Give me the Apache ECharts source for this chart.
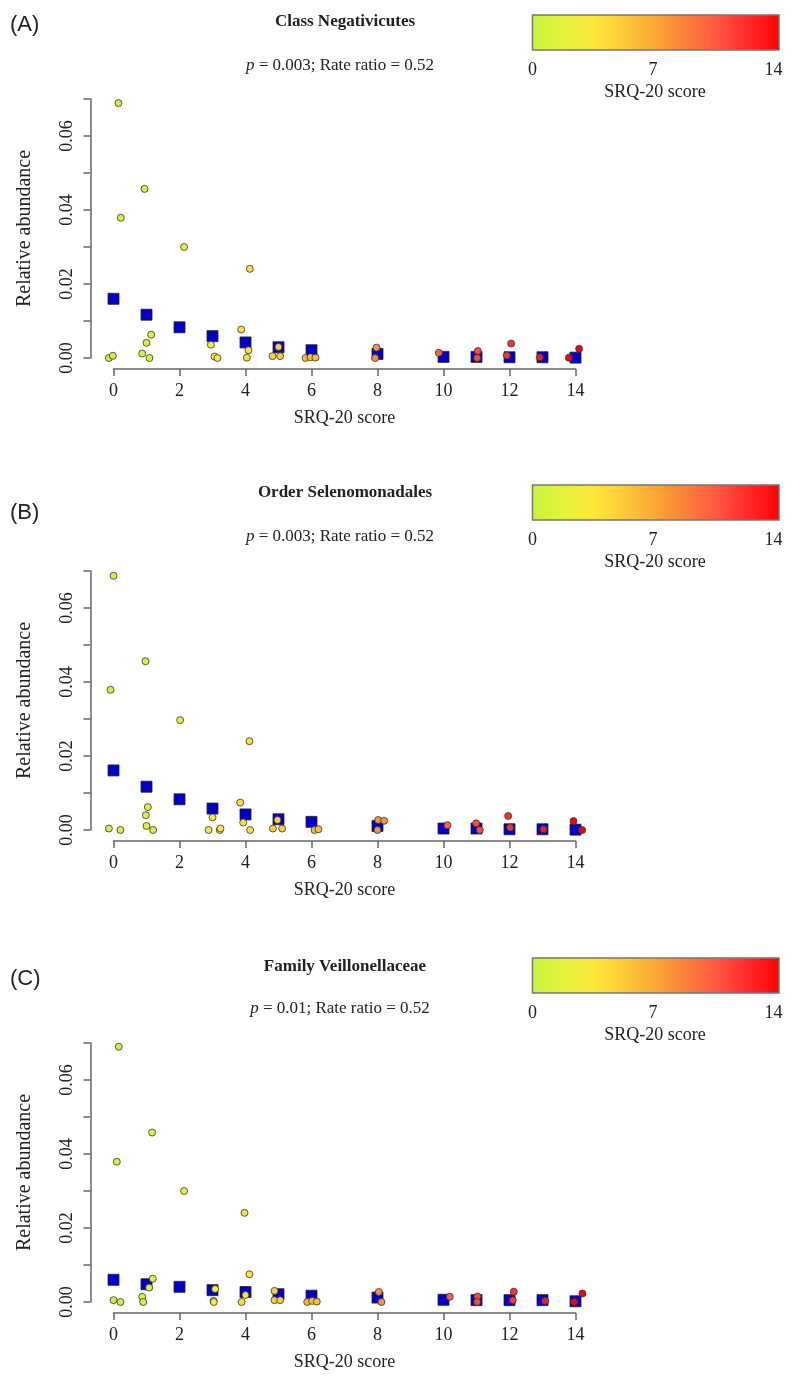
<!DOCTYPE html>
<html>
<head>
<meta charset="utf-8">
<script src="https://cdn.jsdelivr.net/npm/echarts@6/dist/echarts.min.js"></script>
<style>
  html, body { margin: 0; padding: 0; background: #fff; }
  #chart { width: 800px; height: 1388px; }
</style>
</head>
<body>
<div id="chart"></div>
<script>
// group means (blue squares), one per SRQ-20 score
var meanScores = [0, 1, 2, 3, 4, 5, 6, 8, 10, 11, 12, 13, 14];
var meanA = [0.016, 0.0117, 0.0083, 0.0059, 0.0042, 0.0029, 0.0021, 0.0011, 0.0003, 0.0003, 0.0002, 0.0002, 0.0001];
var meanB = [0.0161, 0.0117, 0.0083, 0.0058, 0.0042, 0.0029, 0.0022, 0.0011, 0.0004, 0.0004, 0.0002, 0.0002, 0.0001];
var meanC = [0.006, 0.0048, 0.0041, 0.0032, 0.0027, 0.0021, 0.0017, 0.0012, 0.0006, 0.0005, 0.0005, 0.0005, 0.0002];

// individual samples (jittered score, relative abundance)
var ptsAx = [0.15, 0.22, -0.14, -0.02, 0.94, 0.87, 1.0, 1.14, 1.09, 2.14, 2.95, 3.06, 3.15, 3.87, 4.13, 4.09, 4.04, 4.82, 5.05, 5.0, 5.82, 5.97, 6.12, 7.97, 7.93, 9.86, 11.04, 11.02, 12.05, 11.92, 12.92, 13.8, 14.11];
var ptsAy = [0.0689, 0.0379, 0.0, 0.0006, 0.0457, 0.0012, 0.0041, 0.0063, 0.0, 0.030, 0.0036, 0.0004, 0.0, 0.0077, 0.0241, 0.0021, 0.0001, 0.0005, 0.0005, 0.003, 0.0, 0.0002, 0.0001, 0.0028, 0.0, 0.0014, 0.0019, 0.0, 0.0039, 0.0007, 0.0002, 0.0001, 0.0025];

var ptsBx = [0.0, -0.09, -0.14, 0.21, 0.97, 1.04, 0.98, 1.0, 1.2, 2.02, 3.0, 2.88, 3.22, 3.24, 3.84, 4.12, 3.93, 4.14, 4.83, 5.11, 4.97, 6.09, 6.21, 8.02, 8.2, 8.0, 10.12, 10.99, 11.1, 11.96, 12.02, 13.03, 13.94, 14.2];
var ptsBy = [0.0687, 0.0379, 0.0004, 0.0, 0.0456, 0.0062, 0.004, 0.0011, 0.0, 0.0297, 0.0034, 0.0, 0.0, 0.0004, 0.0074, 0.024, 0.002, 0.0, 0.0004, 0.0004, 0.0027, 0.0, 0.0002, 0.0027, 0.0025, 0.0, 0.0013, 0.0018, 0.0, 0.0038, 0.0007, 0.0002, 0.0024, 0.0];

var ptsCx = [0.16, 0.1, 0.0, 0.21, 1.17, 0.87, 0.9, 1.19, 1.08, 2.14, 3.08, 3.03, 3.04, 3.97, 4.12, 4.0, 3.88, 4.88, 4.88, 5.05, 5.87, 6.02, 6.16, 8.04, 8.12, 10.19, 11.03, 11.02, 12.13, 12.1, 13.08, 13.96, 14.21];
var ptsCy = [0.069, 0.0379, 0.0005, 0.0, 0.0458, 0.0014, 0.0, 0.0063, 0.0039, 0.030, 0.0035, 0.0003, 0.0, 0.0241, 0.0075, 0.0019, 0.0, 0.003, 0.0005, 0.0005, 0.0, 0.0003, 0.0001, 0.0027, 0.0, 0.0014, 0.0015, 0.0, 0.0028, 0.0005, 0.0003, 0.0, 0.0023];

var panelTags = ['(A)', '(B)', '(C)'];
var panelTitles = ['Class Negativicutes', 'Order Selenomonadales', 'Family Veillonellaceae'];
var pValues = ['0.003', '0.003', '0.01'];
var rateRatios = ['0.52', '0.52', '0.52'];
var yTickLabels = ['0.00', '0.02', '0.04', '0.06'];
var barTicks = [0, 7, 14];

var scoreColors = ['#c8f53c', '#e4f23a', '#fde83a', '#fcca38', '#f9a735', '#fa8038', '#ff5640', '#ff2a2a', '#ff0000'];

var serif = 'Liberation Serif';
var panelStep = 472;
var gridTop = 99, gridH = 259, gridLeft = 113.5, gridW = 462;

var myChart = echarts.init(document.getElementById('chart'));

var grids = [], xAxes = [], yAxes = [], series = [], graphics = [];
var means = [meanA, meanB, meanC];
var ptsX = [ptsAx, ptsBx, ptsCx];
var ptsY = [ptsAy, ptsBy, ptsCy];

for (var p = 0; p < 3; p++) {
  var dy = p * panelStep;
  grids.push({ left: gridLeft, top: gridTop + dy, width: gridW, height: gridH });
  xAxes.push({
    gridIndex: p, type: 'value', min: 0, max: 14, interval: 2,
    offset: 11,
    name: 'SRQ-20 score', nameLocation: 'middle', nameGap: 40,
    nameTextStyle: { fontFamily: serif, fontSize: 18, color: '#222' },
    axisLine: { onZero: false, lineStyle: { color: '#666', width: 1.5 } },
    axisTick: { length: 7, lineStyle: { color: '#666', width: 1.5 } },
    axisLabel: { margin: 13, fontFamily: serif, fontSize: 18, color: '#222' },
    splitLine: { show: false }
  });
  yAxes.push({
    gridIndex: p, type: 'value', min: 0, max: 0.07, interval: 0.01,
    offset: 23,
    name: 'Relative abundance', nameLocation: 'middle', nameGap: 56,
    nameTextStyle: { fontFamily: serif, fontSize: 20, color: '#222' },
    axisLine: { show: true, onZero: false, lineStyle: { color: '#666', width: 1.5 } },
    axisTick: { show: true, length: 7, lineStyle: { color: '#666', width: 1.5 } },
    axisLabel: {
      rotate: 90, margin: 14, fontFamily: serif, fontSize: 18, color: '#222',
      formatter: function (v) {
        var s = v.toFixed(2);
        return yTickLabels.indexOf(s) >= 0 ? s : '';
      }
    },
    splitLine: { show: false }
  });

  series.push({
    type: 'scatter', xAxisIndex: p, yAxisIndex: p, clip: false,
    symbol: 'rect', symbolSize: 11, z: 2,
    itemStyle: { color: '#0000cc', borderColor: '#222', borderWidth: 0.8, opacity: 1 },
    data: meanScores.map(function (s, i) { return [s, means[p][i]]; })
  });
  series.push({
    type: 'scatter', xAxisIndex: p, yAxisIndex: p, clip: false,
    symbol: 'circle', symbolSize: 7, z: 3,
    itemStyle: { borderColor: '#333', borderWidth: 0.8, opacity: 1 },
    data: ptsX[p].map(function (x, i) { return [x, ptsY[p][i], Math.round(x)]; })
  });

  // panel header
  graphics.push({
    type: 'text', left: 10, top: [14, 502, 968][p],
    style: { text: panelTags[p], font: '22px "Liberation Sans"', fill: '#222' }
  });
  graphics.push({
    type: 'text', x: 345, y: [22, 493, 967][p],
    style: { text: panelTitles[p], font: 'bold 17px "' + serif + '"', fill: '#222', align: 'center', verticalAlign: 'middle' }
  });
  graphics.push({
    type: 'text', x: 340, y: [66, 537, 1009][p],
    style: {
      text: '{i|p} = ' + pValues[p] + '; Rate ratio = ' + rateRatios[p],
      font: '17px "' + serif + '"', fill: '#222', align: 'center', verticalAlign: 'middle',
      rich: { i: { fontStyle: 'italic', fontFamily: serif, fontSize: 17, fill: '#222' } }
    }
  });

  // colour key
  var by = [15, 485, 958][p];
  graphics.push({
    type: 'rect', shape: { x: 532.5, y: by, width: 246.5, height: 35 },
    style: {
      fill: new echarts.graphic.LinearGradient(0, 0, 1, 0, scoreColors.map(function (c, i) {
        return { offset: i / (scoreColors.length - 1), color: c };
      })),
      stroke: '#777', lineWidth: 1.5
    }
  });
  barTicks.forEach(function (t) {
    graphics.push({
      type: 'text', x: 532.5 + t / 14 * 241, y: by + 55,
      style: { text: String(t), font: '18px "' + serif + '"', fill: '#222', align: 'center', verticalAlign: 'middle' }
    });
  });
  graphics.push({
    type: 'text', x: 655, y: by + 77,
    style: { text: 'SRQ-20 score', font: '18px "' + serif + '"', fill: '#222', align: 'center', verticalAlign: 'middle' }
  });
}

var option = {
  backgroundColor: '#fff',
  animation: false,
  grid: grids,
  xAxis: xAxes,
  yAxis: yAxes,
  visualMap: {
    type: 'continuous', show: false, dimension: 2, min: 0, max: 14,
    seriesIndex: [1, 3, 5],
    inRange: { color: scoreColors }
  },
  series: series,
  graphic: graphics
};
myChart.setOption(option);
</script>
</body>
</html>
